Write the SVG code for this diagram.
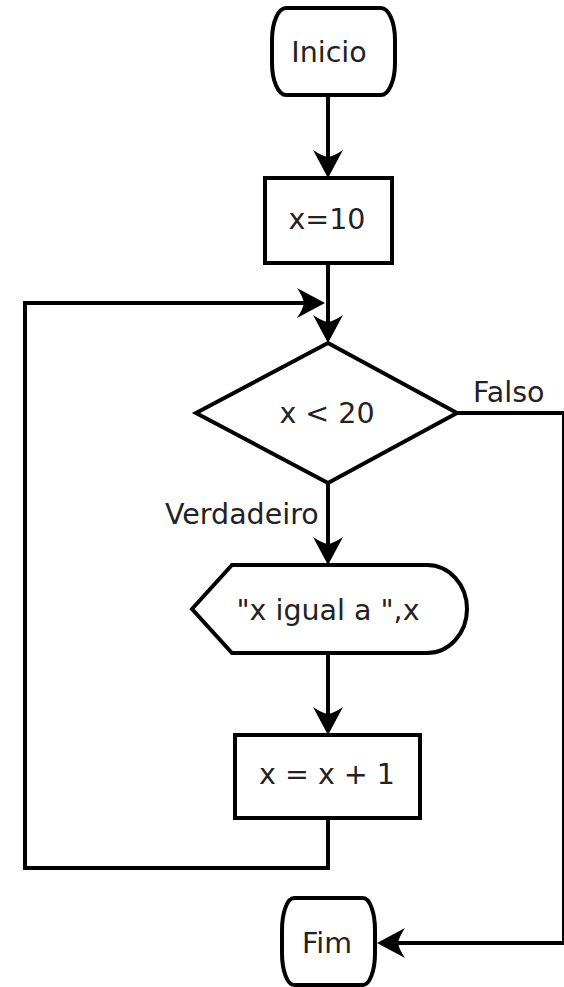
<svg xmlns="http://www.w3.org/2000/svg" width="564" height="987" viewBox="0 0 564 987">
  <style>
    .shape { fill: #ffffff; stroke: #000000; stroke-width: 4; }
    .line { fill: none; stroke: #000000; stroke-width: 4; }
    .label { font-family: "DejaVu Sans", "Liberation Sans", sans-serif; font-size: 28.5px; fill: #222222; }
    .mid { text-anchor: middle; }
  </style>
  <defs>
    <marker id="arrow" markerUnits="userSpaceOnUse" markerWidth="34" markerHeight="34"
            viewBox="-30 -17 34 34" refX="-10" refY="0" orient="auto">
      <path d="M0,0 L-28,-15 Q-22,-6 -21,0 Q-22,6 -28,15 Z" fill="#000000"/>
    </marker>
  </defs>

  <rect width="564" height="987" fill="#ffffff"/>

  <!-- connectors -->
  <g id="connectors">
    <line class="line" x1="328" y1="95" x2="328" y2="168" marker-end="url(#arrow)"/>
    <line class="line" x1="328" y1="263" x2="328" y2="333" marker-end="url(#arrow)"/>
    <line class="line" x1="328" y1="483" x2="328" y2="555" marker-end="url(#arrow)"/>
    <line class="line" x1="328" y1="653" x2="328" y2="725" marker-end="url(#arrow)"/>
    <!-- loop back from the increment to the test -->
    <polyline class="line" points="328,818 328,868 25,868 25,303 315,303" marker-end="url(#arrow)"/>
    <!-- false branch to the end -->
    <polyline class="line" points="457,413 564,413 564,943 387,943" marker-end="url(#arrow)"/>
  </g>

  <g id="inicio">
    <rect class="shape" x="272" y="8" width="123" height="87" rx="14" ry="32"/>
    <text class="label mid" x="329" y="62">Inicio</text>
  </g>

  <g id="atribuicao">
    <rect class="shape" x="265" y="178" width="127" height="85"/>
    <text class="label mid" x="327" y="229">x=10</text>
  </g>

  <g id="decisao">
    <polygon class="shape" points="328,343 457,413 328,483 196,413"/>
    <text class="label mid" x="327" y="423">x &lt; 20</text>
  </g>

  <g id="saida">
    <path class="shape" d="M192,609 L232,565 L427,565 A40,44 0 0 1 427,653 L232,653 Z"/>
    <text class="label mid" x="328" y="620">"x igual a ",x</text>
  </g>

  <g id="incremento">
    <rect class="shape" x="235" y="735" width="185" height="83"/>
    <text class="label mid" x="327" y="784">x = x + 1</text>
  </g>

  <g id="fim">
    <rect class="shape" x="282" y="898" width="93" height="87" rx="12" ry="32"/>
    <text class="label mid" x="327" y="953">Fim</text>
  </g>

  <text class="label" x="473" y="402">Falso</text>
  <text class="label" x="165" y="524">Verdadeiro</text>
</svg>
